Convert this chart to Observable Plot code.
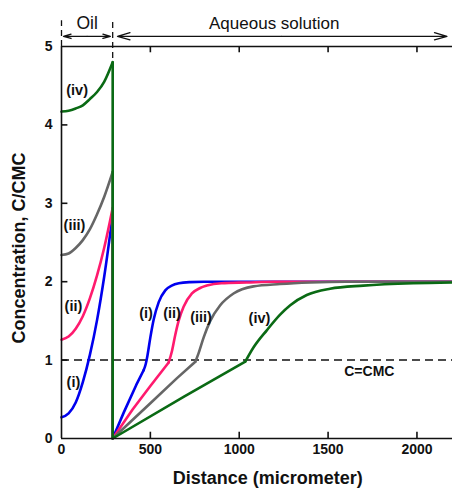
<!DOCTYPE html>
<html>
<head>
<meta charset="utf-8">
<script src="https://cdn.jsdelivr.net/npm/d3@7"></script>
<script src="https://cdn.jsdelivr.net/npm/@observablehq/plot@0.6"></script>
<style>
  html, body { margin: 0; padding: 0; background: #fff; }
</style>
</head>
<body>
<div id="chart"></div>
<script>
// ---- data ----
const seriesNames = ["(i)", "(ii)", "(iii)", "(iv)"];
const seriesColors = ["#0000ee", "#ff1a6e", "#666666", "#0a6a14"];
const interfaceX = 288;

// Oil phase (x from 0 to interface)
const oilX = [0, 40, 80, 120, 160, 200, 240, 288];
const oilI = [0.27, 0.32, 0.46, 0.72, 1.07, 1.51, 2.06, 2.85];
const oilII = [1.26, 1.30, 1.40, 1.56, 1.79, 2.08, 2.43, 2.94];
const oilIII = [2.34, 2.36, 2.43, 2.53, 2.67, 2.86, 3.08, 3.40];
const oilIV = [4.17, 4.18, 4.21, 4.25, 4.33, 4.42, 4.55, 4.80];

// Aqueous phase: straight part below CMC
const linXI = [288, 350, 420, 462];
const linYI = [0, 0.33, 0.68, 0.87];
const linXII = [288, 400, 500, 603];
const linYII = [0, 0.37, 0.67, 0.97];
const linXIII = [288, 500, 650, 753];
const linYIII = [0, 0.45, 0.77, 0.98];
const linXIV = [288, 687, 1034];
const linYIV = [0, 0.53, 0.98];

// Aqueous phase: rise above CMC to plateau
const riseXI = [462, 474, 483, 500, 519, 547, 584, 620, 660, 725, 800, 2200];
const riseYI = [0.87, 0.95, 1.05, 1.29, 1.52, 1.74, 1.89, 1.95, 1.98, 1.995, 2.0, 2.0];
const riseXII = [603, 622, 640, 659, 687, 734, 780, 818, 900, 1043, 1200, 2200];
const riseYII = [0.97, 1.12, 1.32, 1.5, 1.68, 1.85, 1.92, 1.95, 1.98, 1.99, 2.0, 2.0];
const riseXIII = [753, 770, 800, 837, 893, 968, 1080, 1230, 1400, 1600, 2200];
const riseYIII = [0.98, 1.08, 1.29, 1.5, 1.70, 1.85, 1.94, 1.97, 1.99, 2.0, 2.0];
const riseXIV = [1034, 1080, 1155, 1230, 1287, 1380, 1511, 1698, 1979, 2200];
const riseYIV = [0.98, 1.16, 1.38, 1.58, 1.70, 1.83, 1.91, 1.95, 1.98, 1.99];

// labels
const oilLabelX = [67, 67, 73, 88];
const oilLabelY = [0.72, 1.68, 2.72, 4.44];
const aqLabelX = [476, 622, 785, 1114];
const aqLabelY = [1.59, 1.59, 1.54, 1.53];

const xTicks = [0, 500, 1000, 1500, 2000];
const yTicks = [0, 1, 2, 3, 4, 5];
const innerXTicks = [500, 1000, 1500, 2000];
const innerYTicks = [1, 2, 3, 4];

const xTitle = "Distance (micrometer)";
const yTitle = "Concentration, C/CMC";
const cmcLabel = "C=CMC";
const oilTitle = "Oil";
const aqTitle = "Aqueous solution";

// ---- build rows ----
const oilYs = [oilI, oilII, oilIII, oilIV];
const linXs = [linXI, linXII, linXIII, linXIV];
const linYs = [linYI, linYII, linYIII, linYIV];
const riseXs = [riseXI, riseXII, riseXIII, riseXIV];
const riseYs = [riseYI, riseYII, riseYIII, riseYIV];

const smoothRows = [];
const straightRows = [];
seriesNames.forEach((s, k) => {
  oilX.forEach((x, i) => smoothRows.push({s, g: s + "oil", x, y: oilYs[k][i]}));
  riseXs[k].forEach((x, i) => smoothRows.push({s, g: s + "rise", x, y: riseYs[k][i]}));
  // vertical drop at the interface, then the straight part
  const top = oilYs[k][oilYs[k].length - 1];
  straightRows.push({s, g: s + "lin", x: interfaceX, y: top});
  linXs[k].forEach((x, i) => straightRows.push({s, g: s + "lin", x, y: linYs[k][i]}));
});
const oilLabels = seriesNames.map((s, i) => ({s, x: oilLabelX[i], y: oilLabelY[i]}));
const aqLabels = seriesNames.map((s, i) => ({s, x: aqLabelX[i], y: aqLabelY[i]}));

const black = "#111";
const chart = Plot.plot({
  width: 452,
  height: 492,
  marginLeft: 61,
  marginRight: 0,
  marginTop: 46,
  marginBottom: 54,
  style: {fontFamily: "Liberation Sans, Arial, sans-serif", fontSize: "14px", fontWeight: "bold", background: "#fff", overflow: "visible"},
  x: {domain: [0, 2200]},
  y: {domain: [0, 5]},
  color: {domain: seriesNames, range: seriesColors},
  marks: [
    // CMC line
    Plot.ruleY([1], {stroke: black, strokeWidth: 1.5, strokeDasharray: "8,5"}),
    // interface dashed lines (above plot and through it)
    Plot.ruleX([0], {y1: 5, y2: 5.33, stroke: black, strokeWidth: 1.3, strokeDasharray: "6,4"}),
    Plot.ruleX([interfaceX], {y1: 0, y2: 5.33, stroke: black, strokeWidth: 1.3, strokeDasharray: "6,4"}),
    // curves
    Plot.line(smoothRows, {x: "x", y: "y", z: "g", stroke: "s", strokeWidth: 2.6, curve: "monotone-x"}),
    Plot.line(straightRows, {x: "x", y: "y", z: "g", stroke: "s", strokeWidth: 2.6, curve: "linear"}),
    // frame
    Plot.ruleY([0, 5], {stroke: black, strokeWidth: 1.6}),
    Plot.ruleX([0], {stroke: black, strokeWidth: 1.6}),
    // inner ticks
    Plot.ruleX(innerXTicks, {y1: 0, y2: 0.08, stroke: black, strokeWidth: 1.6}),
    Plot.ruleX(innerXTicks, {y1: 4.92, y2: 5, stroke: black, strokeWidth: 1.6}),
    Plot.ruleY(innerYTicks, {x1: 0, x2: 36, stroke: black, strokeWidth: 1.6}),
    // axis labels
    Plot.axisX({ticks: xTicks, tickFormat: d => String(d), tickSize: 0, tickPadding: 6, label: null, fontSize: 14, fontWeight: "bold", fill: black}),
    Plot.axisY({ticks: yTicks, tickFormat: d => String(d), tickSize: 0, tickPadding: 9, label: null, fontSize: 14, fontWeight: "bold", fill: black}),
    Plot.text([xTitle], {x: 1160, y: -0.51, text: d => d, fontSize: 18, fontWeight: "bold", fill: black}),
    Plot.text([yTitle], {x: -240, y: 2.43, text: d => d, rotate: -90, fontSize: 18, fontWeight: "bold", fill: black}),
    // series labels
    Plot.text(oilLabels, {x: "x", y: "y", text: "s", fontSize: 14.5, fontWeight: "bold", fill: black}),
    Plot.text(aqLabels, {x: "x", y: "y", text: "s", fontSize: 14.5, fontWeight: "bold", fill: black}),
    Plot.text([cmcLabel], {x: 1732, y: 0.85, text: d => d, fontSize: 14, fontWeight: "bold", fill: black}),
    // region arrows
    Plot.arrow([{x1: 144, x2: 11}, {x1: 144, x2: 275}], {x1: "x1", x2: "x2", y1: 5.13, y2: 5.13, stroke: black, strokeWidth: 1.3, headAngle: 32, headLength: 15}),
    Plot.arrow([{x1: 1240, x2: 315}, {x1: 1240, x2: 2169}], {x1: "x1", x2: "x2", y1: 5.13, y2: 5.13, stroke: black, strokeWidth: 1.3, headAngle: 32, headLength: 15}),
    Plot.text([oilTitle], {x: 144, y: 5.29, text: d => d, fontSize: 17.5, fontWeight: "normal", fill: black}),
    Plot.text([aqTitle], {x: 1197, y: 5.29, text: d => d, fontSize: 17, fontWeight: "normal", fill: black})
  ]
});
document.getElementById("chart").appendChild(chart);
</script>
</body>
</html>
